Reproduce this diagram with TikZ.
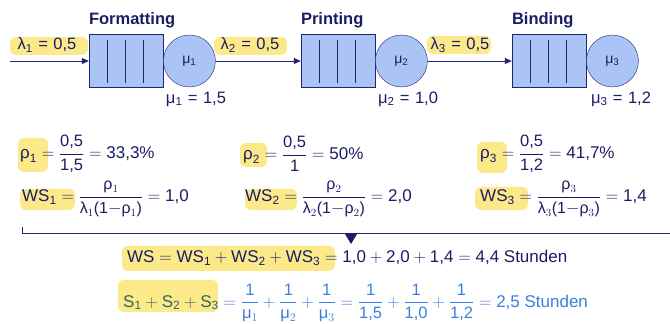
\documentclass[tikz,border=0pt]{standalone}
\usepackage{amsmath}
\usepackage{fontspec}
\setmainfont{Liberation Sans}
\usetikzlibrary{arrows.meta,positioning}
\definecolor{ink}{HTML}{1C1C66}
\definecolor{navy}{HTML}{23237A}
\definecolor{boxfill}{HTML}{A9C4F5}
\definecolor{hl}{HTML}{FBE98A}
\definecolor{sblue}{HTML}{3B7FDD}
\definecolor{sgreen}{HTML}{2E6A5C}
\newcommand{\tx}[1]{\text{#1}}
\newcommand{\fr}[2]{\dfrac{\text{\fontsize{16.5}{16}\selectfont #1}}{\text{\fontsize{16.5}{16}\selectfont #2}}}
\newcommand{\frs}[2]{\dfrac{\text{\fontsize{16}{15}\selectfont #1}}{\text{\fontsize{16}{15}\selectfont #2}}}

\begin{document}
\begin{tikzpicture}[
    x=1pt, y=1pt,
    queue/.style={draw=navy, fill=boxfill, minimum width=74pt, minimum height=53pt, inner sep=0pt},
    server/.style={draw=navy, fill=boxfill, circle, minimum size=52pt, inner sep=0pt, font=\fontsize{14}{14}\selectfont},
    title/.style={anchor=west, inner sep=0pt, font=\fontsize{16.5}{16}\selectfont\bfseries},
    lab/.style={inner sep=0pt, font=\fontsize{16.5}{16}\selectfont},
    formula/.style={anchor=west, inner sep=0pt, font=\fontsize{17}{20}\selectfont},
    hlmark/.style={fill=hl, rounded corners=6pt},
    flow/.style={draw=navy, thick, -{Triangle[length=7pt,width=6pt]}},
    text=ink
  ]
    \clip (0,0) rectangle (670,324);
    % highlighter marks
    \fill[hlmark] (10,269) rectangle (88,287);
    \fill[hlmark] (214,269) rectangle (287,287);
    \fill[hlmark] (427,270) rectangle (491,288);
    \fill[hlmark] (18,152) rectangle (48,186);
    \fill[hlmark] (240,157) rectangle (267,181);
    \fill[hlmark] (477,151) rectangle (507,182);
    \fill[hlmark] (20,114) rectangle (75,135);
    \fill[hlmark] (245,114) rectangle (297,135);
    \fill[hlmark] (475,114) rectangle (528,137);
    \fill[hlmark] (122,53) rectangle (335,78);
    \fill[hlmark] (118,12) rectangle (218,44);

    % queues
    \node[queue] (fq) at (126,263) {};
    \node[server, right=0pt of fq] (fs) {μ$_{\tx{1}}$};
    \node[queue] (pq) at (338,263) {};
    \node[server, right=0pt of pq] (ps) {μ$_{\tx{2}}$};
    \node[queue] (bq) at (549,263) {};
    \node[server, right=0pt of bq] (bs) {μ$_{\tx{3}}$};
    \foreach \q in {fq,pq,bq}
      \foreach \d in {19,37,55}
        \draw[navy, thick] (\q.south west) ++(\d,5) -- ++(0,43);

    \node[title, anchor=south west] (ft) at (fq.north west) [yshift=6pt] {Formatting};
    \node[title, anchor=south west] (pt) at (pq.north west) [yshift=6pt] {Printing};
    \node[title, anchor=south west] (bt) at (bq.north west) [yshift=6pt] {Binding};

    \node[lab] (mu1) at (196,225) {μ$_{\tx{1}}$\,\,=\,\,1,5};
    \node[lab] (mu2) at (408,225) {μ$_{\tx{2}}$\,\,=\,\,1,0};
    \node[lab] (mu3) at (621,225) {μ$_{\tx{3}}$\,\,=\,\,1,2};

    \coordinate (in) at (10,263);
    \draw[flow] (in) -- (fq.west);
    \draw[flow] (fs.east) -- (pq.west);
    \draw[flow] (ps.east) -- (bq.west);
    \node[lab] (l1) at (47,279) {λ$_{\tx{1}}$\,\,=\,\,0,5};
    \node[lab] (l2) at (250,279) {λ$_{\tx{2}}$\,\,=\,\,0,5};
    \node[lab] (l3) at (460,279) {λ$_{\tx{3}}$\,\,=\,\,0,5};

    % utilisation and time in system
    \node[formula] (r1) at (20,170) {$\tx{ρ}_{\tx{1}} = \fr{0,5}{1,5} = \tx{33,3\%}$};
    \node[formula] (r2) at (243,170) {$\tx{ρ}_{\tx{2}} = \fr{0,5}{1} = \tx{50\%}$};
    \node[formula] (r3) at (480,170) {$\tx{ρ}_{\tx{3}} = \fr{0,5}{1,2} = \tx{41,7\%}$};
    \node[formula] (w1) at (22,125) {$\tx{WS}_{\tx{1}} = \frs{ρ$_1$}{λ$_1$(1$-$ρ$_1$)} = \tx{1,0}$};
    \node[formula] (w2) at (245,125) {$\tx{WS}_{\tx{2}} = \frs{ρ$_2$}{λ$_2$(1$-$ρ$_2$)} = \tx{2,0}$};
    \node[formula] (w3) at (480,125) {$\tx{WS}_{\tx{3}} = \frs{ρ$_3$}{λ$_3$(1$-$ρ$_3$)} = \tx{1,4}$};

    \coordinate (bl) at (22,97);
    \coordinate (br) at (670,91);
    \draw[navy, thick] (bl) |- (br);
    \coordinate (tri) at (351,90);
    \fill[ink] (tri) ++(-6,0) -- ++(12,0) -- ++(-6,-10) -- cycle;

    \node[formula] (ws) at (127,66) {$\tx{WS} = \tx{WS}_{\tx{1}} + \tx{WS}_{\tx{2}} + \tx{WS}_{\tx{3}} = \tx{1,0} + \tx{2,0} + \tx{1,4} = \tx{4,4 Stunden}$};
    \node[formula, text=sblue] (st) at (123,21) {$\color{sgreen}\tx{S}_{\tx{1}} + \tx{S}_{\tx{2}} + \tx{S}_{\tx{3}} \color{sblue} = \fr{1}{μ$_1$} + \fr{1}{μ$_2$} + \fr{1}{μ$_3$} = \fr{1}{1,5} + \fr{1}{1,0} + \fr{1}{1,2} = \tx{2,5 Stunden}$};
  \end{tikzpicture}
\end{document}
